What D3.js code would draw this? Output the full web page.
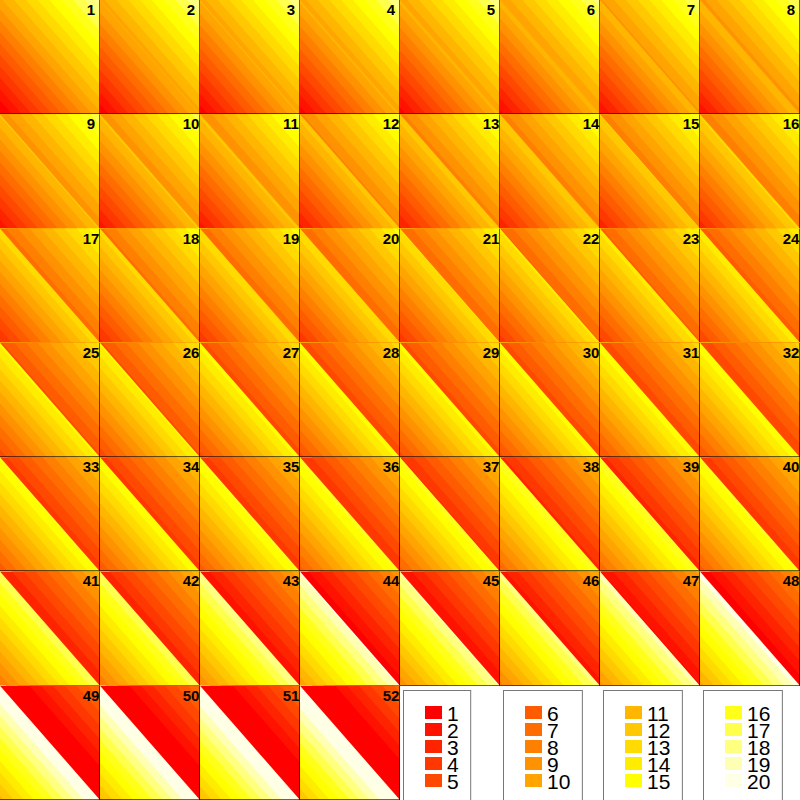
<!DOCTYPE html>
<html>
<head>
<meta charset="utf-8">
<script src="https://cdn.jsdelivr.net/npm/d3@7"></script>
<style>
  html, body { margin: 0; padding: 0; background: #fff; }
  svg { display: block; }
</style>
</head>
<body>
<script>
// ---------- data ----------
const heatColors = ["#FF0000","#FF1200","#FF2400","#FF3700","#FF4900","#FF5B00","#FF6D00","#FF8000","#FF9200","#FFA400",
                    "#FFB600","#FFC800","#FFDB00","#FFED00","#FFFF00","#FFFF1A","#FFFF4D","#FFFF80","#FFFFB3","#FFFFE6"];
const legendLabels = ["1","2","3","4","5","6","7","8","9","10","11","12","13","14","15","16","17","18","19","20"];
const panelIds = [1,2,3,4,5,6,7,8,9,10,11,12,13,14,15,16,17,18,19,20,21,22,23,24,25,26,
                  27,28,29,30,31,32,33,34,35,36,37,38,39,40,41,42,43,44,45,46,47,48,49,50,51,52];
// colour class reached by the lower-left triangle at the diagonal
const lowerDiag = [9.8,10.1,10.2,10.3,10.4,10.6,10.9,11.0,11.2,11.3,11.4,11.6,11.8,12.0,12.1,12.3,
                   12.8,12.6,13.0,13.0,13.1,13.3,13.5,13.8,14.3,14.2,14.5,14.6,14.5,14.6,14.8,14.9,
                   15.2,15.0,15.3,15.5,15.6,16.0,16.1,15.4,17.0,17.0,18.0,19.2,18.2,17.6,18.6,19.6,
                   20.6,20.7,20.8,21.0];
// colour class at which the upper-right triangle starts at the diagonal
const upperDiag = [9.8,9.6,9.5,9.5,9.4,9.1,8.8,8.6,8.3,8.2,8.0,7.8,7.6,7.4,7.3,7.1,
                   6.5,6.7,6.3,6.1,6.0,5.9,5.8,5.5,4.8,4.8,4.5,4.3,4.5,4.4,4.2,4.0,
                   3.4,3.5,3.3,3.0,2.9,2.7,2.5,3.2,2.0,2.2,1.2,0.3,1.0,1.5,0.9,0.2,
                   -1.5,-1.5,-1.8,-2.0];
const lowerSpan = 10;   // classes crossed in lower triangle
const upperSpan = 8.5;  // classes crossed in upper triangle

// ---------- layout ----------
const W = 800, H = 800, ncol = 8, nrow = 7;
const svg = d3.select("body").append("svg").attr("width", W).attr("height", H);
const colX = d3.scaleBand().domain(d3.range(ncol)).range([0, W]);
const rowY = d3.scaleBand().domain(d3.range(nrow)).range([0, H]);
const colorIdx = d3.scaleQuantize().domain([0, 20]).range(heatColors);
const clampIdx = k => Math.max(0, Math.min(19, k));

function clipHalf(poly, c) {
  const out = [];
  for (let i = 0; i < poly.length; i++) {
    const p = poly[i], q = poly[(i + 1) % poly.length];
    const fp = p[0] + p[1] - c, fq = q[0] + q[1] - c;
    if (fp >= 0) out.push(p);
    if ((fp >= 0) !== (fq >= 0)) {
      const t = fp / (fp - fq);
      out.push([p[0] + t * (q[0] - p[0]), p[1] + t * (q[1] - p[1])]);
    }
  }
  return out;
}
const rectPoly = [[0,0],[1,0],[1,1],[0,1]];
const upperTri = [[1,0],[1,1],[0,1]];

panelIds.forEach((id, i) => {
  const c = i % ncol, r = Math.floor(i / ncol);
  const x0 = colX(c), y0 = rowY(r), bw = colX.bandwidth(), bh = rowY.bandwidth();
  const ux = d3.scaleLinear().domain([0, 1]).range([x0, x0 + bw]);
  const wy = d3.scaleLinear().domain([0, 1]).range([y0 + bh, y0]);
  const line = d3.line().x(d => ux(d[0])).y(d => wy(d[1]));
  const g = svg.append("g");

  // lower bands (painted over whole panel, upper is painted on top)
  const L = lowerDiag[i], lStart = L - lowerSpan;
  const bands = [];
  for (let k = Math.floor(lStart); k <= Math.floor(L); k++) {
    const s1 = Math.max(0, (k - lStart) / lowerSpan);
    bands.push({poly: clipHalf(rectPoly, s1), k: clampIdx(k)});
  }
  const U = upperDiag[i];
  for (let k = Math.floor(U); k <= Math.floor(U + upperSpan); k++) {
    const s1 = Math.max(1, 1 + (k - U) / upperSpan);
    const poly = s1 <= 1 ? upperTri : clipHalf(upperTri, s1);
    if (poly.length > 2) bands.push({poly, k: clampIdx(k)});
  }
  g.selectAll("path").data(bands).join("path")
    .attr("d", d => line(d.poly) + "Z")
    .attr("fill", d => colorIdx(d.k + 0.5))
    .attr("stroke", "none");

  // borders (right & bottom)
  const xr = Math.round(x0 + bw) - 0.5, yb = Math.round(y0 + bh) - 0.5;
  g.append("line").attr("x1", xr).attr("x2", xr).attr("y1", y0).attr("y2", y0 + bh)
    .attr("stroke", "#000").attr("stroke-opacity", 0.6).attr("stroke-width", 1);
  g.append("line").attr("x1", x0).attr("x2", x0 + bw).attr("y1", yb).attr("y2", yb)
    .attr("stroke", "#000").attr("stroke-opacity", 0.6).attr("stroke-width", 1);

  g.append("text").attr("x", x0 + 91).attr("y", y0 + 15)
    .attr("text-anchor", "middle")
    .attr("font-family", "'Liberation Sans', Arial, sans-serif")
    .attr("font-weight", "bold").attr("font-size", 15).attr("fill", "#000")
    .text(id);
});

// ---------- legend ----------
const legendX = d3.scaleBand().domain(d3.range(4)).range([403, 803]);
for (let b = 0; b < 4; b++) {
  const bx = legendX(b);
  const lg = svg.append("g");
  const box = lg.append("rect").attr("x", bx + 0.5).attr("y", 690.5).attr("height", 130)
    .attr("fill", "#fff").attr("stroke", "#777").attr("stroke-width", 1);
  const items = d3.range(b * 5, b * 5 + 5);
  const rowS = d3.scaleLinear().domain([0, 1]).range([706, 723]);
  lg.selectAll("rect.sw").data(items).join("rect").attr("class", "sw")
    .attr("x", bx + 22).attr("y", (d, j) => rowS(j)).attr("width", 17).attr("height", 13)
    .attr("fill", d => heatColors[d]);
  const texts = lg.selectAll("text").data(items).join("text")
    .attr("x", bx + 44).attr("y", (d, j) => rowS(j) + 15)
    .attr("font-family", "'Liberation Sans', Arial, sans-serif")
    .attr("font-size", 21).attr("fill", "#000")
    .text(d => legendLabels[d]);
  let maxW = 0;
  texts.each(function () { maxW = Math.max(maxW, this.getComputedTextLength()); });
  box.attr("width", 44 + maxW + 12 - 0.5);
}
</script>
</body>
</html>
